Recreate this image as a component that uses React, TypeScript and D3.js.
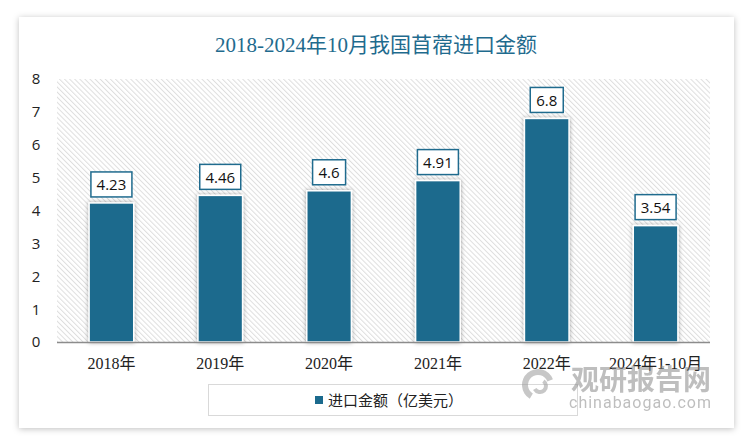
import React, { useEffect, useRef } from 'react';
import * as d3 from 'd3';

// chart data
const categories = ['2018年', '2019年', '2020年', '2021年', '2022年', '2024年1-10月'];
const values = [4.23, 4.46, 4.6, 4.91, 6.8, 3.54];
const yTicks = [0, 1, 2, 3, 4, 5, 6, 7, 8];
const seriesName = '进口金额（亿美元）';
const title = '2018-2024年10月我国苜蓿进口金额';

const W = 750;
const H = 445;
const BAR = '#1b6a8d';

const App: React.FC = () => {
  const svgRef = useRef<SVGSVGElement>(null);

  useEffect(() => {
    if (!svgRef.current) return;
    const svg = d3.select(svgRef.current);
    svg.selectAll('*').remove();

    const defs = svg.append('defs');

    // card shadow
    const cardShadow = defs.append('filter').attr('id', 'cardShadow')
      .attr('x', '-5%').attr('y', '-5%').attr('width', '110%').attr('height', '110%');
    cardShadow.append('feDropShadow')
      .attr('dx', 0).attr('dy', 1).attr('stdDeviation', 3)
      .attr('flood-color', '#000').attr('flood-opacity', 0.25);

    // bar shadow
    const barShadow = defs.append('filter').attr('id', 'barShadow')
      .attr('x', '-30%').attr('y', '-10%').attr('width', '160%').attr('height', '120%');
    barShadow.append('feDropShadow')
      .attr('dx', 0).attr('dy', 0).attr('stdDeviation', 2.2)
      .attr('flood-color', '#000').attr('flood-opacity', 0.35);

    // diagonal hatch background
    const hatch = defs.append('pattern').attr('id', 'hatch')
      .attr('patternUnits', 'userSpaceOnUse')
      .attr('width', 3.6).attr('height', 3.6)
      .attr('patternTransform', 'rotate(-45)');
    hatch.append('rect').attr('width', 3.6).attr('height', 3.6).attr('fill', '#fff');
    hatch.append('line')
      .attr('x1', 0.5).attr('x2', 0.5).attr('y1', 0).attr('y2', 3.6)
      .attr('stroke', '#dedede').attr('stroke-width', 1);

    // card
    svg.append('rect')
      .attr('x', 19).attr('y', 17).attr('width', 715).attr('height', 411)
      .attr('fill', '#fff')
      .attr('filter', 'url(#cardShadow)');

    // title
    svg.append('text')
      .attr('x', 376).attr('y', 52)
      .attr('text-anchor', 'middle')
      .attr('fill', '#1f6b8e')
      .attr('font-family', '"Liberation Serif", "Noto Sans CJK SC", serif')
      .attr('font-size', 21)
      .text(title);

    const x = d3.scaleBand<string>()
      .domain(categories)
      .range([57, 710])
      .paddingInner(0.59)
      .paddingOuter(0.295);

    const y = d3.scaleLinear().domain([0, 8]).range([342, 79]);

    // plot area background
    svg.append('rect')
      .attr('x', 57).attr('y', y(8))
      .attr('width', 710 - 57).attr('height', y(0) - y(8))
      .attr('fill', 'url(#hatch)');

    // y tick labels
    svg.append('g').selectAll('text')
      .data(yTicks)
      .join('text')
      .attr('x', 36)
      .attr('y', (d) => y(d))
      .attr('dy', '0.36em')
      .attr('text-anchor', 'middle')
      .attr('fill', '#222')
      .attr('font-family', '"Open Sans", "Noto Sans", sans-serif')
      .attr('font-size', 15)
      .text((d) => d);

    // bars
    svg.append('g').selectAll('rect')
      .data(values)
      .join('rect')
      .attr('x', (_, i) => x(categories[i])!)
      .attr('y', (d) => y(d))
      .attr('width', x.bandwidth())
      .attr('height', (d) => y(0) - y(d))
      .attr('fill', BAR)
      .attr('stroke', '#fff')
      .attr('stroke-width', 1.5)
      .attr('filter', 'url(#barShadow)');

    // axis line
    svg.append('line')
      .attr('x1', 57).attr('x2', 710)
      .attr('y1', y(0) + 0.5).attr('y2', y(0) + 0.5)
      .attr('stroke', '#8c8c8c').attr('stroke-width', 1.5);

    // value label boxes
    const labels = svg.append('g').selectAll('g')
      .data(values)
      .join('g')
      .attr('transform', (d, i) => `translate(${x(categories[i])! + x.bandwidth() / 2},${y(d) - 18})`);

    labels.append('rect')
      .attr('x', (d) => (String(d).length > 3 ? -20.5 : -16.5))
      .attr('y', -13)
      .attr('width', (d) => (String(d).length > 3 ? 41 : 33))
      .attr('height', 25)
      .attr('fill', '#fff')
      .attr('stroke', '#1f6b8e')
      .attr('stroke-width', 1.5);

    labels.append('text')
      .attr('y', 0)
      .attr('dy', '0.36em')
      .attr('text-anchor', 'middle')
      .attr('fill', '#111')
      .attr('font-family', '"Open Sans", "Noto Sans", sans-serif')
      .attr('font-size', 15)
      .text((d) => d);

    // x labels
    svg.append('g').selectAll('text')
      .data(categories)
      .join('text')
      .attr('x', (d) => x(d)! + x.bandwidth() / 2)
      .attr('y', 363)
      .attr('dy', '0.36em')
      .attr('text-anchor', 'middle')
      .attr('fill', '#222')
      .attr('font-family', '"Liberation Serif", "Noto Sans CJK SC", serif')
      .attr('font-size', 16)
      .text((d) => d);

    // legend
    svg.append('rect')
      .attr('x', 208.5).attr('y', 384.5).attr('width', 369).attr('height', 31)
      .attr('fill', '#fff').attr('stroke', '#d9d9d9').attr('stroke-width', 1);
    svg.append('rect')
      .attr('x', 315).attr('y', 396).attr('width', 8).attr('height', 8)
      .attr('fill', BAR);
    svg.append('text')
      .attr('x', 328).attr('y', 401)
      .attr('dy', '0.36em')
      .attr('fill', '#222')
      .attr('font-family', '"Noto Sans CJK SC", sans-serif')
      .attr('font-size', 15)
      .text(seriesName);

    // watermark
    const wm = svg.append('g').attr('opacity', 0.55);
    wm.append('path')
      .attr('d', d3.arc()({ innerRadius: 10, outerRadius: 16, startAngle: -2.6, endAngle: 1.2 }) as string)
      .attr('transform', 'translate(538,385)')
      .attr('fill', '#9a9a9a');
    wm.append('path')
      .attr('d', d3.arc()({ innerRadius: 4, outerRadius: 8, startAngle: 0.6, endAngle: 4.2 }) as string)
      .attr('transform', 'translate(540,386)')
      .attr('fill', '#9a9a9a');
    wm.append('text')
      .attr('x', 711).attr('y', 390)
      .attr('text-anchor', 'end')
      .attr('fill', '#8a8a8a')
      .attr('font-family', '"Noto Sans CJK SC", sans-serif')
      .attr('font-weight', 'bold')
      .attr('font-size', 28)
      .text('观研报告网');
    wm.append('text')
      .attr('x', 711).attr('y', 408)
      .attr('text-anchor', 'end')
      .attr('fill', '#8a8a8a')
      .attr('font-family', '"Roboto", sans-serif')
      .attr('font-size', 16)
      .attr('textLength', 142)
      .text('chinabaogao.com');
  }, []);

  return (
    <svg
      ref={svgRef}
      width={W}
      height={H}
      style={{ position: 'absolute', left: 0, top: 0, display: 'block', background: '#fff' }}
    />
  );
};

export default App;
